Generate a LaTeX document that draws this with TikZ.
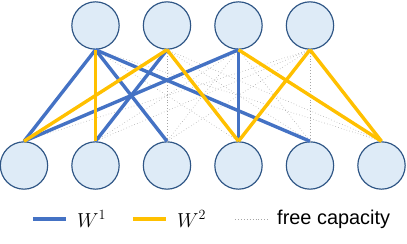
\documentclass[tikz,border=0pt]{standalone}
\usepackage{fontspec}
\setmainfont{Liberation Sans}
\usetikzlibrary{positioning}
\definecolor{nodefill}{HTML}{DEEBF7}
\definecolor{nodeline}{HTML}{2E5585}
\definecolor{wone}{HTML}{4472C4}
\definecolor{wtwo}{HTML}{FFC000}
\definecolor{freeline}{HTML}{A6A6A6}

\begin{document}
\begin{tikzpicture}[
                x=0.03cm, y=0.03cm,
                unit/.style={circle, draw=nodeline, fill=nodefill, line width=1pt, minimum size=1.42cm, inner sep=0pt},
                wa/.style={draw=wone, line width=2.9pt},
                wb/.style={draw=wtwo, line width=2.9pt},
                free/.style={draw=freeline, line width=0.5pt, dotted},
                lbl/.style={anchor=west, font=\fontsize{17}{20}\selectfont, inner sep=0pt}
            ]
            \useasboundingbox (0,0) rectangle (407,243);
            % units
            \foreach \i/\x in {1/95.5, 2/167, 3/238.5, 4/310}
                \node[unit] (t\i) at (\x,217.5) {};
            \foreach \i/\x in {1/24, 2/95.5, 3/167, 4/238.5, 5/310, 6/381.5}
                \node[unit] (b\i) at (\x,77.5) {};
            % free capacity
            \foreach \a/\b in {1/4, 1/6, 2/3, 2/5, 2/6, 3/2, 3/3, 3/5, 4/1, 4/2, 4/3, 4/5}
                \draw[free] (t\a.south) -- (b\b.north);
            % W^1
            \foreach \a/\b in {1/1, 1/3, 1/5, 2/2, 3/1, 3/4}
                \draw[wa] (t\a.south) -- (b\b.north);
            % W^2
            \foreach \a/\b in {1/2, 2/1, 2/4, 3/6, 4/4, 4/6}
                \draw[wb] (t\a.south) -- (b\b.north);
            % legend
            \coordinate (la) at (33,24);  \coordinate (lb) at (66,24);
            \coordinate (lc) at (133,24); \coordinate (ld) at (166,24);
            \coordinate (le) at (235,24); \coordinate (lf) at (268,24);
            \draw[wa] (la) -- (lb);
            \draw[wb] (lc) -- (ld);
            \draw[free] (le) -- (lf);
            \node[lbl, right=11 of lb] (lw1) {$W^1$};
            \node[lbl, right=11 of ld] (lw2) {$W^2$};
            \node[lbl, right=9 of lf] (lfree) {free capacity};
        \end{tikzpicture}
\end{document}
